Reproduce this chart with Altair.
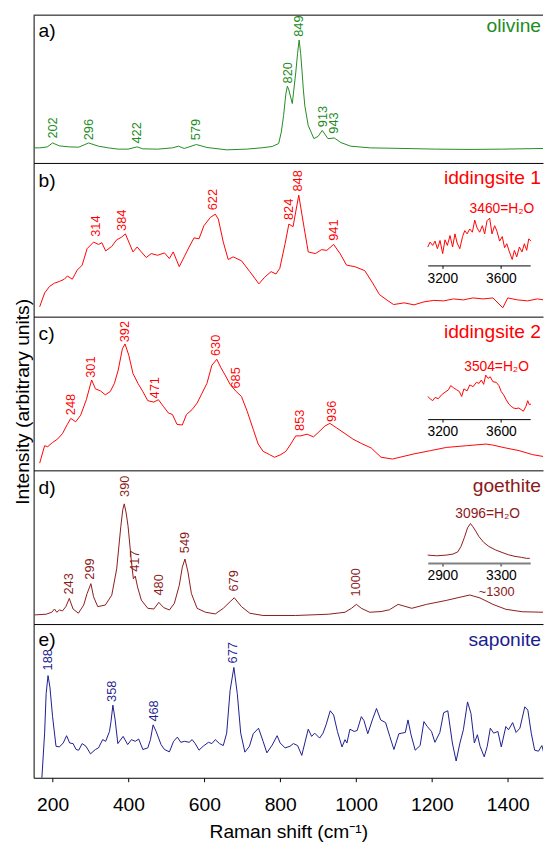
import altair as alt
import pandas as pd

FONT = "Liberation Sans"
W = 517
XMIN, XMAX = 150, 1493

C_OL = "#228B22"
C_ID = "#FF0000"
C_GO = "#8B1A1A"
C_SA = "#1C1C8F"

# ---------------- data ----------------
ol_x = [150, 166, 186, 200, 218, 244, 269, 295, 321, 347, 373, 399, 423, 438, 477, 516, 532, 547, 579, 607,
        659, 711, 750, 779, 796, 803, 809, 815, 819, 823, 832, 841, 846, 850, 854, 858, 861, 865, 874, 889,
        900, 911, 926, 943, 960, 986, 1038, 1124, 1212, 1298, 1384, 1495]
ol_y = [15.3, 15.3, 16.3, 20.3, 17.3, 16.3, 16, 20.3, 17, 15.3, 14, 14, 16.3, 14.3, 14, 15.3, 17, 14.7, 18.7, 15.7,
        13.3, 14, 15.3, 16.7, 19.7, 31.3, 48, 70, 78, 74, 60.3, 91.3, 111.3, 124.7, 111.3, 91.3, 75, 58, 38, 24.7,
        27, 33, 24.7, 25.3, 20.7, 17, 15.3, 14.7, 14, 13.7, 14, 14.7]
ol_lab_x = [202, 296, 422, 579, 820, 849, 913, 943]
ol_lab_y = [20.7, 19, 15.7, 19, 76.7, 124, 32.3, 25.7]

id1_x = [166, 179, 192, 205, 218, 231, 239, 252, 265, 278, 291, 308, 321, 330, 340, 356, 369, 382, 392, 401,
         412, 423, 434, 447, 460, 477, 495, 508, 518, 534, 547, 560, 573, 586, 599, 616, 629, 637, 650, 663,
         676, 698, 720, 744, 759, 776, 789, 799, 813, 823, 834, 849, 863, 874, 893, 909, 923, 941, 958, 975,
         997, 1023, 1044, 1062, 1082, 1099, 1127, 1153, 1179, 1205, 1231, 1257, 1283, 1308, 1335, 1361, 1387, 1400, 1426, 1452,
         1478, 1495]
id1_y = [10, 24, 30.7, 34, 35.7, 38, 41.3, 38, 47.3, 52.3, 69, 75.7, 73.3, 75, 66.7, 71.3, 78, 80.7, 84, 75.7,
         65.7, 70.7, 65.7, 60, 64, 62.3, 64.7, 59, 65.7, 50.7, 60.7, 70.7, 80, 79, 92.3, 100.7, 104, 99, 75.7, 58,
         60.7, 56.7, 45.7, 33.3, 40, 45.7, 43.3, 49, 74, 94, 91.3, 123.3, 90.7, 65.7, 64, 68, 67.3, 73.3, 64, 52.3,
         50.7, 46.7, 34, 22.3, 16.7, 12.3, 14, 12, 15, 16.5, 16, 18, 17, 19, 18, 19, 9, 19, 17, 16,
         18, 17]
id1_lab_x = [314, 384, 622, 824, 848, 941]
id1_lab_y = [77, 83, 104, 94, 123, 73]
id1_in_x = [3100, 3116, 3134, 3150, 3166, 3184, 3202, 3218, 3234, 3252, 3270, 3286, 3301, 3319, 3338, 3353, 3369, 3387, 3405, 3421,
            3437, 3455, 3473, 3489, 3505, 3523, 3539, 3557, 3573, 3591, 3609, 3625, 3640, 3658, 3677, 3692, 3708, 3726, 3744, 3760,
            3776, 3790, 3805]
id1_in_y = [70.7, 75.7, 72.3, 76.7, 69, 77.3, 64, 78, 72.3, 82.3, 70.7, 84, 74.7, 69, 81.3, 87.3, 84, 89, 85.7, 98,
            90, 85.7, 92.3, 84, 97.3, 100, 84, 92.3, 86.7, 76.7, 81.3, 70, 74, 65.7, 58, 67.3, 60.7, 70.7, 65.7, 74,
            67.3, 79, 76.7]

id2_x = [166, 179, 187, 200, 213, 226, 239, 248, 261, 274, 289, 303, 313, 326, 339, 352, 363, 373, 384, 391,
         401, 412, 425, 438, 451, 467, 479, 492, 505, 516, 528, 542, 553, 568, 581, 594, 607, 620, 633, 644,
         655, 668, 684, 698, 713, 729, 742, 755, 772, 785, 802, 815, 828, 841, 854, 871, 888, 900, 918, 931,
         948, 971, 992, 1014, 1040, 1066, 1096, 1153, 1196, 1239, 1291, 1343, 1360, 1395, 1430, 1465, 1495]
id2_y = [7.3, 25, 24, 28.3, 31.7, 37.3, 46.7, 52.7, 49.3, 56, 71.7, 91.7, 82.7, 80.7, 76.7, 80, 88.3, 101.7, 123.3, 128.3,
         116.7, 98.3, 88.3, 80, 70.7, 69.3, 71.7, 65, 58.3, 56.7, 46.7, 46, 56.7, 61.7, 68.3, 78.3, 88.3, 106.7, 112.7, 104,
         96.7, 87.3, 80, 75, 60, 41.7, 26.7, 19.3, 16, 13.3, 16, 19.3, 26.7, 35, 35, 36.7, 34, 38.3, 45, 47.7,
         43.3, 37.3, 31.7, 27.3, 22.7, 13.3, 11.5, 16.7, 20, 23.3, 25, 26.7, 25.7, 22.7, 20, 16, 14]
id2_lab_x = [248, 301, 392, 471, 630, 685, 853, 936]
id2_lab_y = [52, 90, 126, 69, 112, 79, 36, 45]
id2_in_x = [3100, 3116, 3134, 3150, 3172, 3195, 3218, 3241, 3257, 3275, 3298, 3316, 3332, 3347, 3369, 3387, 3410, 3432, 3451, 3466,
            3482, 3496, 3512, 3527, 3545, 3568, 3586, 3602, 3618, 3636, 3654, 3670, 3686, 3704, 3722, 3738, 3753, 3771, 3783, 3794,
            3805]
id2_in_y = [75, 72.7, 70.7, 74, 72.7, 76.7, 79.3, 81.7, 86, 84, 81.7, 80, 75, 82.7, 80.7, 86.7, 85, 89.3, 88.3, 91.7,
            87.3, 96.7, 93.3, 95, 90, 89.3, 86, 80, 76.7, 71.7, 67.3, 65, 63.3, 62.7, 63.3, 61.7, 60, 65, 70.7, 66.7,
            67.3]

go_x = [153, 183, 198, 205, 211, 218, 226, 235, 244, 254, 268, 282, 291, 301, 308, 319, 339, 356, 369, 380,
        385, 389, 394, 399, 408, 413, 418, 424, 434, 451, 467, 480, 493, 508, 521, 534, 542, 549, 557, 566,
        581, 603, 629, 650, 668, 679, 698, 720, 755, 841, 928, 971, 988, 1001, 1014, 1036, 1066, 1088, 1111, 1147,
        1186, 1238, 1277, 1300, 1327, 1361, 1395, 1438, 1495]
go_y = [9.3, 10, 12, 15.3, 12, 14.3, 13.3, 17.7, 26, 15.3, 11, 19.3, 31, 41, 27.7, 17.7, 19.3, 29.3, 56, 99.3,
        116, 122, 112.7, 99.3, 62.7, 46, 48.7, 37.7, 24.3, 16, 15.3, 22, 16.7, 14.3, 21, 39.3, 57.7, 66, 52.7, 31,
        16, 12, 10.3, 16, 22.7, 26.7, 17.7, 11, 8.7, 8.7, 10, 12, 16, 20, 16, 12, 12.7, 14.5, 20, 16,
        20, 24, 27.5, 29.5, 26.5, 20, 15, 12.5, 12]
go_lab_x = [243, 299, 390, 417, 480, 549, 679, 1000]
go_lab_y = [26, 41, 125, 49, 25, 68, 29, 24]
go_in_x = [2800, 2860, 2927, 2972, 3005, 3027, 3050, 3072, 3092, 3106, 3128, 3150, 3184, 3218, 3262, 3307, 3352, 3396, 3441, 3475,
           3497]
go_in_y = [70, 69.3, 70, 71, 73.3, 78.7, 87.7, 97.7, 102, 99.3, 94.3, 88.7, 82.7, 78.7, 75.3, 72.7, 70.3, 68.7, 67.7, 66.7,
           66.7]

sa_x = [171, 179, 183, 188, 193, 200, 209, 218, 228, 237, 245, 254, 262, 269, 278, 288, 300, 313, 321, 332,
        340, 350, 354, 359, 365, 372, 386, 398, 408, 418, 427, 438, 451, 458, 465, 473, 486, 495, 508, 519,
        529, 538, 548, 560, 568, 576, 586, 597, 611, 620, 629, 640, 650, 659, 668, 678, 687, 696, 707, 719,
        729, 743, 755, 765, 779, 792, 800, 813, 826, 835, 846, 857, 865, 874, 883, 891, 904, 913, 921, 932,
        941, 951, 963, 971, 976, 984, 995, 1003, 1014, 1021, 1031, 1043, 1054, 1065, 1078, 1089, 1100, 1113, 1121, 1130,
        1137, 1145, 1156, 1169, 1179, 1188, 1199, 1208, 1221, 1231, 1242, 1254, 1264, 1274, 1283, 1294, 1303, 1312, 1320, 1327,
        1338, 1346, 1354, 1363, 1374, 1383, 1395, 1402, 1413, 1422, 1432, 1445, 1453, 1462, 1471, 1481, 1490, 1495]
sa_y = [-5, 45.3, 85.3, 103.7, 92, 62, 32, 31.3, 35.3, 42.7, 35.3, 34.7, 28.7, 28, 34.7, 32, 24.3, 28.7, 30.3, 38.7,
        37, 47, 57, 73.7, 58.7, 34.7, 42, 33.7, 38.7, 37, 39.3, 28.7, 30.3, 38.7, 53.7, 47, 33.7, 28.7, 26.3, 37,
        41.3, 36, 37, 36, 38.7, 34.7, 28, 32, 36, 34.7, 38.7, 34.7, 32.7, 45.3, 88.7, 112, 85.3, 45.3, 26, 32,
        44.7, 50.3, 37, 25.3, 33.2, 42.7, 35.3, 30.3, 32, 34.7, 32.7, 22.7, 35.3, 49.3, 42, 45.3, 40.3, 45.3, 53.7, 68,
        63.7, 47, 31.3, 38.7, 35.3, 49.3, 47, 48, 62, 58, 44.7, 58.7, 70.3, 58.7, 56, 42, 28.7, 44.7, 45.3, 46,
        58.7, 43.7, 28, 32.7, 57, 52, 47, 36, 46, 66, 68, 35.3, 17, 35.3, 48.7, 77, 65.3, 35.3, 43.7, 32,
        21.3, 32, 50.3, 45.3, 47, 31.3, 52, 48.7, 56, 46, 50.3, 72, 68.7, 45.3, 28, 27, 32.7, 25.3]
sa_lab_x = [188, 358, 468, 677]
sa_lab_y = [105, 73, 53, 112]

x_ticks = [200, 400, 600, 800, 1000, 1200, 1400]

# ---------------- helpers ----------------
xs = alt.Scale(domain=[XMIN, XMAX], nice=False, zero=False)


def text_layer(txt, color, x, y, size=19.5, align="left"):
    return alt.Chart(pd.DataFrame({"t": [txt]})).mark_text(
        align=align, baseline="alphabetic", font=FONT, fontSize=size, color=color
    ).encode(x=alt.value(x), y=alt.value(y), text="t:N")


def panel(sx, sy, color, lx, ly, title, letter, h=156, title_y=22, letter_y=24,
          inset=None, bottom=False, ytitle=False, top=False, extra=None):
    ys = alt.Scale(domain=[0, h], nice=False, zero=False)
    if bottom:
        xaxis = alt.Axis(values=x_ticks, format="d", tickSize=4, tickColor="black", domainColor="black",
                         labelFont=FONT, labelFontSize=19.5, labelColor="black", labelPadding=14,
                         title="Raman shift (cm\u207b\u00b9)", titleFont=FONT, titleFontSize=19.5,
                         titleFontWeight="normal", titleColor="black", titlePadding=9, grid=False)
    else:
        xaxis = alt.Axis(labels=False, ticks=False, title=None, domainColor="black", grid=False)
    if ytitle:
        yaxis = alt.Axis(labels=False, ticks=False, grid=False, domainColor="black",
                         title="Intensity (arbitrary units)", titleFont=FONT, titleFontSize=19.5,
                         titleFontWeight="normal", titleColor="black", titlePadding=1, titleY=86)
    else:
        yaxis = alt.Axis(labels=False, ticks=False, grid=False, domainColor="black", title=None)

    X = alt.X("x:Q", scale=xs, axis=xaxis)
    Y = alt.Y("y:Q", scale=ys, axis=yaxis)
    line = alt.Chart(pd.DataFrame({"x": sx, "y": sy})).mark_line(
        color=color, strokeWidth=1, clip=True).encode(x=X, y=Y)
    labs = alt.Chart(pd.DataFrame({"x": lx, "y": ly, "t": [str(v) for v in lx]})).mark_text(
        angle=270, align="left", baseline="middle", dx=4, font=FONT, fontSize=13, color=color
    ).encode(x=X, y=Y, text="t:N")
    layers = [line, labs,
              text_layer(title, color, W - 2, title_y, align="right"),
              text_layer(letter, "black", 5, letter_y)]
    if top:
        layers.append(alt.Chart(pd.DataFrame({"a": [0]})).mark_rule(color="black", strokeWidth=1)
                      .encode(y=alt.value(0)))
    if extra is not None:
        ex_x, ex_y, ex_t = extra
        layers.append(alt.Chart(pd.DataFrame({"x": [ex_x], "y": [ex_y], "t": [ex_t]})).mark_text(
            align="left", baseline="middle", dx=9, dy=-3, font=FONT, fontSize=13, color=color
        ).encode(x=X, y=Y, text="t:N"))
    main = alt.layer(*layers)
    if inset is None:
        return main.properties(width=W, height=h)

    ix, iy, dom, ticks, peak, peak_y, off, dx, dy, axcol, axw = inset
    iscale = alt.Scale(domain=dom, range=[400, 504], nice=False, zero=False)
    iaxis = alt.Axis(orient="bottom", offset=off, values=ticks, format="d", tickSize=3, tickColor=axcol,
                     domainColor=axcol, domainWidth=axw, tickWidth=axw, labelFont=FONT, labelFontSize=14,
                     labelColor="black", labelPadding=3, title=None, grid=False)
    IX = alt.X("x:Q", scale=iscale, axis=iaxis)
    iline = alt.Chart(pd.DataFrame({"x": ix, "y": iy})).mark_line(
        color=color, strokeWidth=1).encode(x=IX, y=Y)
    ilab = alt.Chart(pd.DataFrame({"x": [peak], "y": [peak_y], "t": [f"{peak}=H\u2082O"]})).mark_text(
        align="left", baseline="middle", dx=dx, dy=dy, font=FONT, fontSize=14, color=color
    ).encode(x=IX, y=Y, text="t:N")
    ins = alt.layer(iline, ilab)
    return alt.layer(main, ins).resolve_scale(x="independent").properties(width=W, height=h)


pa = panel(ol_x, ol_y, C_OL, ol_lab_x, ol_lab_y, "olivine", "a)", h=150, title_y=17, letter_y=22, top=True)
pb = panel(id1_x, id1_y, C_ID, id1_lab_x, id1_lab_y, "iddingsite 1", "b)", title_y=21,
           inset=(id1_in_x, id1_in_y, [3100, 3800], [3200, 3600], 3460, 100, -52, -11, -9, "black", 1))
pc = panel(id2_x, id2_y, C_ID, id2_lab_x, id2_lab_y, "iddingsite 2", "c)", ytitle=True,
           inset=(id2_in_x, id2_in_y, [3100, 3800], [3200, 3600], 3504, 96.7, -52, -23, -8, "black", 1))
pd_ = panel(go_x, go_y, C_GO, go_lab_x, go_lab_y, "goethite", "d)",
            inset=(go_in_x, go_in_y, [2800, 3500], [2900, 3300], 3096, 102, -62, -16, -10, "#808080", 2),
            extra=(1300, 29.5, "~1300"))
pe = panel(sa_x, sa_y, C_SA, sa_lab_x, sa_lab_y, "saponite", "e)", letter_y=22, bottom=True)

chart = alt.vconcat(pa, pb, pc, pd_, pe, spacing=0, bounds="flush").configure_view(
    stroke=None).properties(padding={"left": 5, "top": 0, "right": 0, "bottom": 0})

chart.save("out.html", embed_options={"renderer": "svg", "actions": False})
